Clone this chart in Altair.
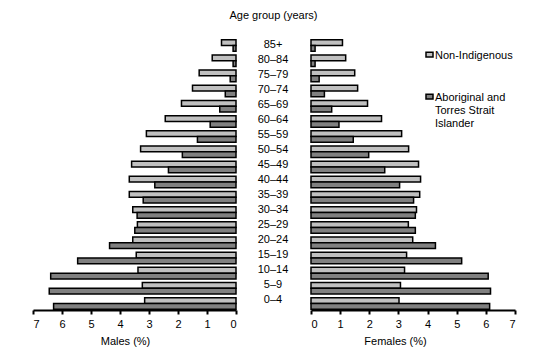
import altair as alt
import pandas as pd

ages = ["85+", "80–84", "75–79", "70–74", "65–69", "60–64", "55–59", "50–54", "45–49",
        "40–44", "35–39", "30–34", "25–29", "20–24", "15–19", "10–14", "5–9", "0–4"]
series = ["Non-Indigenous", "Aboriginal and Torres Strait Islander"]
male_nonind = [0.5, 0.82, 1.27, 1.5, 1.88, 2.44, 3.09, 3.29, 3.6, 3.68, 3.68, 3.56, 3.4, 3.56, 3.44, 3.38, 3.23, 3.15]
male_abor = [0.1, 0.1, 0.2, 0.37, 0.56, 0.89, 1.33, 1.85, 2.33, 2.8, 3.2, 3.41, 3.49, 4.36, 5.46, 6.39, 6.44, 6.29]
female_nonind = [1.08, 1.19, 1.5, 1.6, 1.94, 2.42, 3.11, 3.35, 3.69, 3.76, 3.73, 3.62, 3.34, 3.49, 3.28, 3.21, 3.07, 3.02]
female_abor = [0.14, 0.14, 0.28, 0.46, 0.71, 0.96, 1.45, 1.98, 2.53, 3.04, 3.52, 3.58, 3.58, 4.27, 5.17, 6.08, 6.16, 6.13]
ticks = [0, 1, 2, 3, 4, 5, 6, 7]

FONT = "Liberation Sans"
colors = ["#c0c0c0", "#808080"]

rows = []
for i, a in enumerate(ages):
    rows.append({"sex": "Males", "age": a, "series": series[0], "value": male_nonind[i]})
    rows.append({"sex": "Males", "age": a, "series": series[1], "value": male_abor[i]})
    rows.append({"sex": "Females", "age": a, "series": series[0], "value": female_nonind[i]})
    rows.append({"sex": "Females", "age": a, "series": series[1], "value": female_abor[i]})
df = pd.DataFrame(rows)

H = 271
yscale = alt.Scale(domain=ages, paddingInner=0.24, paddingOuter=0.05)


def axis(title, title_x):
    return alt.Axis(values=ticks, title=title, grid=False, domainColor="black", domainWidth=2,
                    tickColor="black", tickWidth=2, tickSize=4, labelColor="black",
                    labelFont=FONT, labelFontSize=11, labelPadding=4,
                    titleFont=FONT, titleFontSize=11, titleFontWeight="normal",
                    titleColor="black", titlePadding=6, titleX=title_x)


def side(sex, reverse, title, title_x, width, legend):
    return alt.Chart(df[df.sex == sex]).mark_bar(stroke="black", strokeWidth=1.5).encode(
        x=alt.X("value:Q", scale=alt.Scale(domain=[0, 7], reverse=reverse), axis=axis(title, title_x)),
        y=alt.Y("age:N", scale=yscale, axis=None),
        yOffset=alt.YOffset("series:N", sort=series, scale=alt.Scale(domain=series, paddingInner=0, paddingOuter=0)),
        color=alt.Color("series:N", scale=alt.Scale(domain=series, range=colors), legend=legend),
    ).properties(width=width, height=H)


left = side("Males", True, "Males (%)", 92, 203, None)

leg = alt.Legend(orient="none", legendX=113, legendY=5, title=None,
                 symbolType="M-1,0.75L1,0.75L1,2.15L-1,2.15Z",
                 symbolSize=49, symbolStrokeColor="black", symbolStrokeWidth=1.5,
                 labelFont=FONT, labelFontSize=11, labelColor="black", labelOffset=0,
                 labelBaseline="top", rowPadding=25, labelLimit=200,
                 labelExpr="datum.label == 'Aboriginal and Torres Strait Islander' ? ['Aboriginal and', 'Torres Strait', 'Islander'] : datum.label")
right = side("Females", False, "Females (%)", 84, 204, leg)

labels_df = pd.DataFrame({"age": ages})
middle = alt.Chart(labels_df).mark_text(font=FONT, fontSize=11, color="black", dy=-2).encode(
    y=alt.Y("age:N", scale=yscale, axis=None),
    x=alt.value(37),
    text="age:N",
).properties(width=75, height=H,
             title=alt.TitleParams("Age group (years)", font=FONT, fontSize=11, fontWeight="normal",
                                   color="black", anchor="middle", offset=18))

chart = alt.hconcat(left, middle, right, spacing=0, bounds="flush").resolve_legend(
    color="independent").properties(padding={"left": 24, "top": 1, "right": 5, "bottom": 5}
).configure_view(stroke=None)

chart.save("out.html", embed_options={"renderer": "svg", "actions": False})
